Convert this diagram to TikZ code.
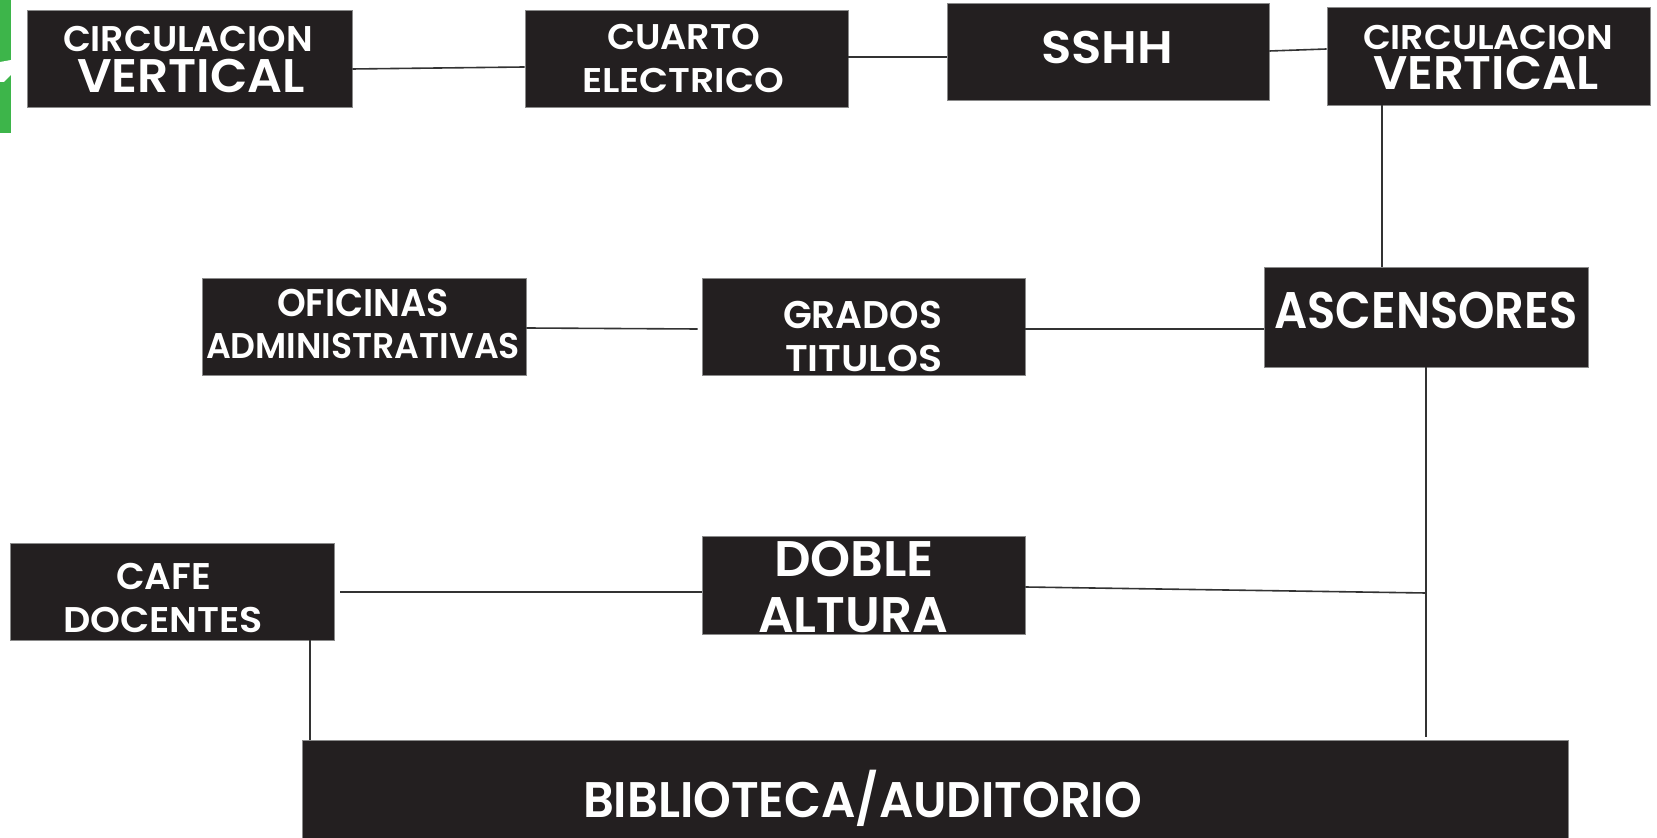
\documentclass[tikz,border=0pt]{standalone}
\usepackage{fontspec}
\usepackage{graphicx}
\setmainfont{Poppins}[BoldFont={Poppins SemiBold}]
\usetikzlibrary{calc}
\definecolor{boxblack}{HTML}{231F20}
\definecolor{edgegray}{HTML}{8A8A8A}
\definecolor{linegray}{HTML}{333333}
\definecolor{brandgreen}{HTML}{3DB54A}
\newlength\txw
\newcommand\tx[3]{\pgfmathsetmacro\fs{#1*0.5/0.7}\fontsize{\fs pt}{\fs pt}\selectfont\bfseries\settowidth\txw{#3}\pgfmathsetmacro\sx{#2*0.5/\txw}\scalebox{\sx}[1]{#3}}
\tikzset{
  box/.style={rectangle, fill=boxblack, draw=edgegray, line width=0.4pt, inner sep=0pt},
  lbl/.style={anchor=base, text=white, inner sep=0pt},
  conn/.style={draw=linegray, line width=0.8pt}
}
\begin{document}
\begin{tikzpicture}[x=0.5pt, y=-0.5pt]
\path[use as bounding box, fill=white] (0,0) rectangle (1657,838);
% green brand mark
\fill[brandgreen] (0,0) rectangle (11,133);
\fill[white] (0,62) -- (11,60) -- (11,75) -- (4,82) -- (0,82) -- cycle;
% boxes
\node[box, minimum width=162.5pt, minimum height=48.5pt] (cvl) at (189.5,58.5) {};
\node[box, minimum width=161.5pt, minimum height=48.5pt] (ce) at (686.5,58.5) {};
\node[box, minimum width=161pt, minimum height=48.5pt] (ss) at (1108,51.5) {};
\node[box, minimum width=161.5pt, minimum height=49pt] (cvr) at (1488.5,56) {};
\node[box, minimum width=162pt, minimum height=48.5pt] (of) at (364,326.5) {};
\node[box, minimum width=161.5pt, minimum height=48.5pt] (gr) at (863.5,326.5) {};
\node[box, minimum width=162pt, minimum height=50pt] (asc) at (1426,317) {};
\node[box, minimum width=162pt, minimum height=48.5pt] (cafe) at (172,591.5) {};
\node[box, minimum width=161.5pt, minimum height=49pt] (doble) at (863.5,585) {};
\node[box, minimum width=633pt, minimum height=49pt] (bib) at (935,789) {};
% labels
\node[lbl] (tcvl1) at (188,52) {\tx{25}{250}{CIRCULACION}};
\node[lbl] (tcvl2) at (191,93) {\tx{33}{228}{VERTICAL}};
\node[lbl] (tcvr1) at (1488,50) {\tx{24}{250}{CIRCULACION}};
\node[lbl] (tcvr2) at (1486,90) {\tx{33}{226}{VERTICAL}};
\node[lbl] (tce1) at (683.5,50) {\tx{25}{153}{CUARTO}};
\node[lbl] (tce2) at (683,93) {\tx{24}{202}{ELECTRICO}};
\node[lbl] (tss) at (1107,64) {\tx{32}{132}{SSHH}};
\node[lbl] (tasc) at (1426,329) {\tx{36}{303}{ASCENSORES}};
\node[lbl] (tof1) at (363,317) {\tx{27}{172}{OFICINAS}};
\node[lbl] (tof2) at (363,359) {\tx{25}{314}{ADMINISTRATIVAS}};
\node[lbl] (tgr1) at (862.5,329) {\tx{27}{159}{GRADOS}};
\node[lbl] (tgr2) at (863.5,372) {\tx{26}{157}{TITULOS}};
\node[lbl] (tdb1) at (854,576) {\tx{35}{160}{DOBLE}};
\node[lbl] (tdb2) at (853,632) {\tx{35}{190}{ALTURA}};
\node[lbl] (tcf1) at (163.5,589) {\tx{26}{95}{CAFE}};
\node[lbl] (tcf2) at (163,632) {\tx{25}{200}{DOCENTES}};
\node[lbl] (tbib) at (862.5,817) {\tx{35}{559}{BIBLIOTECA/AUDITORIO}};
% junction coordinates
\coordinate (jd) at (1426,593);
\coordinate (jb) at (1426,737);
% connectors
\draw[conn] ($(cvl.east)+(0,10.5)$) -- ($(ce.west)+(0,8.5)$);
\draw[conn] ($(ce.east)+(0,-1.5)$) -- ($(ss.west)+(0,5.5)$);
\draw[conn] ($(ss.east)+(0,-0.5)$) -- ($(cvr.west)+(0,-7)$);
\draw[conn] (cvr.south -| 1382,0) -- (asc.north -| 1382,0);
\draw[conn] ($(of.east)+(0,1.5)$) -- ($(gr.west)+(-4,2.5)$);
\draw[conn] ($(gr.east)+(0,2.5)$) -- ($(asc.west)+(0,12)$);
\draw[conn] (asc.south) -- (jb);
\draw[conn] ($(doble.east)+(0,2)$) -- (jd);
\draw[conn] ($(cafe.east)+(6,0.5)$) -- ($(doble.west)+(0,7)$);
\draw[conn] (cafe.south -| 310,0) -- (bib.north -| 310,0);
\end{tikzpicture}
\end{document}
